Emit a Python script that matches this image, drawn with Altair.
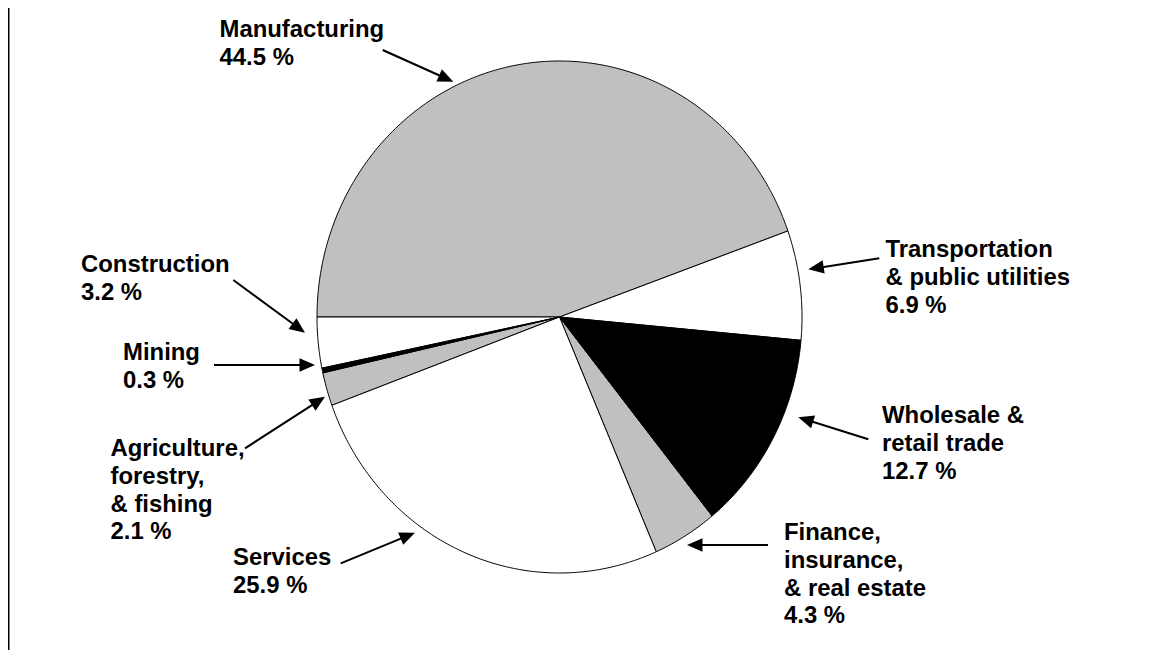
import math
import pandas as pd
import altair as alt

# ---------------- data ----------------
sectors = [
    "Manufacturing",
    "Transportation & public utilities",
    "Wholesale & retail trade",
    "Finance, insurance, & real estate",
    "Services",
    "Agriculture, forestry, & fishing",
    "Mining",
    "Construction",
]
shares = [44.5, 6.9, 12.7, 4.3, 25.9, 2.1, 0.3, 3.2]
fills = ["#c0c0c0", "#ffffff", "#000000", "#c0c0c0",
         "#ffffff", "#c0c0c0", "#000000", "#ffffff"]
name_lines = [
    ["Manufacturing"],
    ["Transportation", "& public utilities"],
    ["Wholesale &", "retail trade"],
    ["Finance,", "insurance,", "& real estate"],
    ["Services"],
    ["Agriculture,", "forestry,", "& fishing"],
    ["Mining"],
    ["Construction"],
]

# ---------------- layout (page pixels) ----------------
START_DEG = -90.0          # first slice starts at 9 o'clock, clockwise
label_anchor = [            # left x, first baseline y
    (219.5, 36.7), (885.5, 257.3), (882.0, 423.3), (784.0, 540.0),
    (233.0, 565.0), (110.5, 456.0), (123.0, 360.0), (81.0, 271.7),
]
LINE_STEP = 27.8
arrows = [                  # tail x, tail y, tip x, tip y
    (382.7, 50.0, 453.3, 81.7),
    (879.3, 258.3, 808.3, 269.3),
    (868.3, 439.3, 798.3, 417.3),
    (768.0, 545.0, 687.0, 545.0),
    (340.7, 563.3, 415.0, 532.7),
    (245.0, 448.3, 325.0, 396.7),
    (214.0, 365.0, 315.0, 365.0),
    (233.3, 280.0, 305.0, 332.7),
]

# ---------------- pie polygons (unit coordinates) ----------------
total = sum(shares)
rows = []
cum = 0.0
for i, (s, v) in enumerate(zip(sectors, shares)):
    a0 = START_DEG + cum / total * 360.0
    cum += v
    a1 = START_DEG + cum / total * 360.0
    n = max(2, int(math.ceil(abs(a1 - a0) / 0.5)))
    pts = [(0.0, 0.0)]
    for j in range(n + 1):
        t = math.radians(a0 + (a1 - a0) * j / n)
        pts.append((math.sin(t), math.cos(t)))
    pts.append((0.0, 0.0))
    for k, (u, w) in enumerate(pts):
        rows.append(dict(sector=s, fill=fills[i], k=k, u=u, v=w))
pie_df = pd.DataFrame(rows)

pie_x = alt.Scale(domain=[-1, 1], range=[309, 794], nice=False, zero=False)
pie_y = alt.Scale(domain=[-1, 1], range=[565, 53], nice=False, zero=False)


def pie_layer(color):
    return (
        alt.Chart(pie_df)
        .transform_filter(alt.datum.fill == color)
        .mark_line(fill=color, stroke="black", strokeWidth=1)
        .encode(
            x=alt.X("u:Q", scale=pie_x, axis=None),
            y=alt.Y("v:Q", scale=pie_y, axis=None),
            detail="sector:N",
            order="k:Q",
        )
    )


# ---------------- annotations ----------------
ax = alt.Scale(domain=[8, 1145], range=[0, 1137], nice=False, zero=False)
ay = alt.Scale(domain=[8, 650], range=[0, 642], nice=False, zero=False)

text_rows = []
for i, lines in enumerate(name_lines):
    all_lines = lines + [f"{shares[i]} %"]
    x0, y0 = label_anchor[i]
    for j, t in enumerate(all_lines):
        text_rows.append(dict(text=t, x=x0, y=y0 + j * LINE_STEP, line=j, sector=sectors[i]))
text_df = pd.DataFrame(text_rows)

arrow_rows = []
HEAD_LEN = 15.5
for i, (tx, ty, hx, hy) in enumerate(arrows):
    dx, dy = hx - tx, hy - ty
    L = math.hypot(dx, dy)
    ex, ey = hx - dx / L * (HEAD_LEN * 0.7), hy - dy / L * (HEAD_LEN * 0.7)
    ang = math.degrees(math.atan2(dy, dx)) % 360
    arrow_rows.append(dict(sector=sectors[i], x1=tx, y1=ty, x2=ex, y2=ey, hx=hx, hy=hy, ang=ang))
arrow_df = pd.DataFrame(arrow_rows)

shafts = alt.Chart(arrow_df).mark_rule(color="black", strokeWidth=2).encode(
    x=alt.X("x1:Q", scale=ax, axis=None),
    y=alt.Y("y1:Q", scale=ay, axis=None),
    x2="x2:Q",
    y2="y2:Q",
)

HEAD = "M0,0L-1,-0.43L-1,0.43Z"
heads = alt.Chart(arrow_df).mark_point(
    shape=HEAD, filled=True, color="black", size=(2 * HEAD_LEN) ** 2,
    opacity=1, strokeWidth=0,
).encode(
    x=alt.X("hx:Q", scale=ax, axis=None),
    y=alt.Y("hy:Q", scale=ay, axis=None),
    angle=alt.Angle("ang:Q", scale=None),
)

labels = alt.Chart(text_df).mark_text(
    align="left", baseline="alphabetic", font="Liberation Sans",
    fontSize=23.9, fontWeight="bold", color="black",
).encode(
    x=alt.X("x:Q", scale=ax, axis=None),
    y=alt.Y("y:Q", scale=ay, axis=None),
    text="text:N",
)

border = alt.Chart(pd.DataFrame({"a": [0]})).mark_rule(color="black", strokeWidth=1.5).encode(
    x=alt.value(0.75), y=alt.value(0), y2=alt.value(642)
)

chart = (
    alt.layer(
        pie_layer("#c0c0c0"), pie_layer("#ffffff"), pie_layer("#000000"),
        shafts, heads, labels, border,
    )
    .resolve_scale(x="independent", y="independent")
    .properties(width=1137, height=642, padding=0,
                autosize=alt.AutoSizeParams(type="none"), background="white")
    .configure_view(strokeWidth=0)
)

chart.save("out.html", embed_options={"renderer": "svg", "actions": False})
